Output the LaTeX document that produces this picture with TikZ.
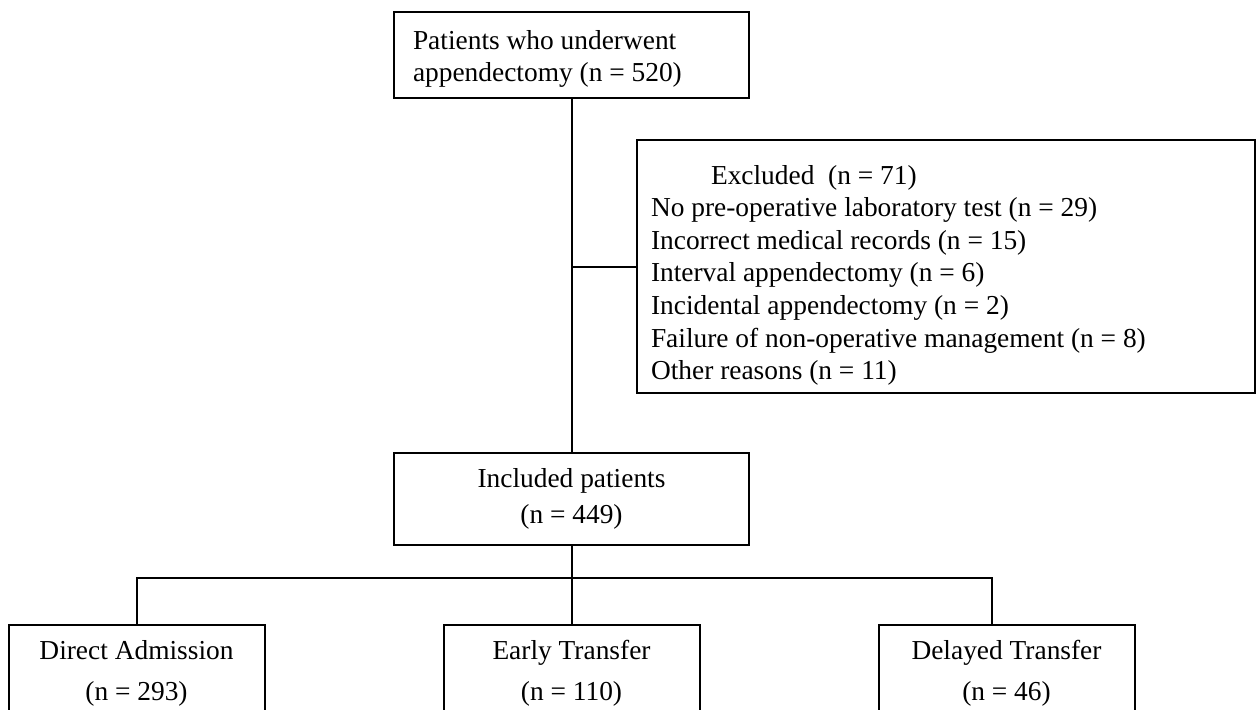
\documentclass[tikz,border=0pt]{standalone}
\usepackage{fontspec}
\setmainfont{Liberation Serif}
\usetikzlibrary{positioning}

\begin{document}
\begin{tikzpicture}[x=0.5pt,y=-0.5pt,line width=1pt,
  box/.style={rectangle,draw,inner sep=0pt,font=\fontsize{13.7}{16.3}\selectfont},
  armbox/.style={box,minimum width=128pt,minimum height=48pt,align=center}]
  \useasboundingbox (0,0) rectangle (1256,709);
  \clip (0,0) rectangle (1256,709);
  \node[box,anchor=north west,inner xsep=9.5pt,text width=158.5pt,align=flush left,text height=18.5pt,text depth=24.5pt] (start) at (393,11) {Patients who underwent\\appendectomy (n = 520)};
  \node[box,minimum width=177.5pt,minimum height=46pt,align=center] (incl) [below=176.5pt of start] {Included patients\\[1.7pt](n = 449)};
  \node[box,anchor=north west,inner xsep=7pt,text width=295pt,align=flush left,text height=22pt,text depth=104.5pt] (excl) at (636,139) {\hspace*{30pt}Excluded\ \ (n = 71)\\
    No pre-operative laboratory test (n = 29)\\
    Incorrect medical records (n = 15)\\
    Interval appendectomy (n = 6)\\
    Incidental appendectomy (n = 2)\\
    Failure of non-operative management (n = 8)\\
    Other reasons (n = 11)};
  \node[armbox] (early) [below=39pt of incl] {Early Transfer\\[4.2pt](n = 110)};
  \node[armbox] (direct) [left=88.5pt of early] {Direct Admission\\[4.2pt](n = 293)};
  \node[armbox] (delayed) [right=88.5pt of early] {Delayed Transfer\\[4.2pt](n = 46)};
  \coordinate (branch) at (start |- excl.west);
  \coordinate (fork) at (incl |- 0,578);
  \coordinate (dt) at ([xshift=-7.5pt]delayed.north);
  \draw (start) -- (incl);
  \draw (branch) -- (excl);
  \draw (incl) -- (early);
  \draw (direct) |- (fork) -| (dt);
\end{tikzpicture}
\end{document}
